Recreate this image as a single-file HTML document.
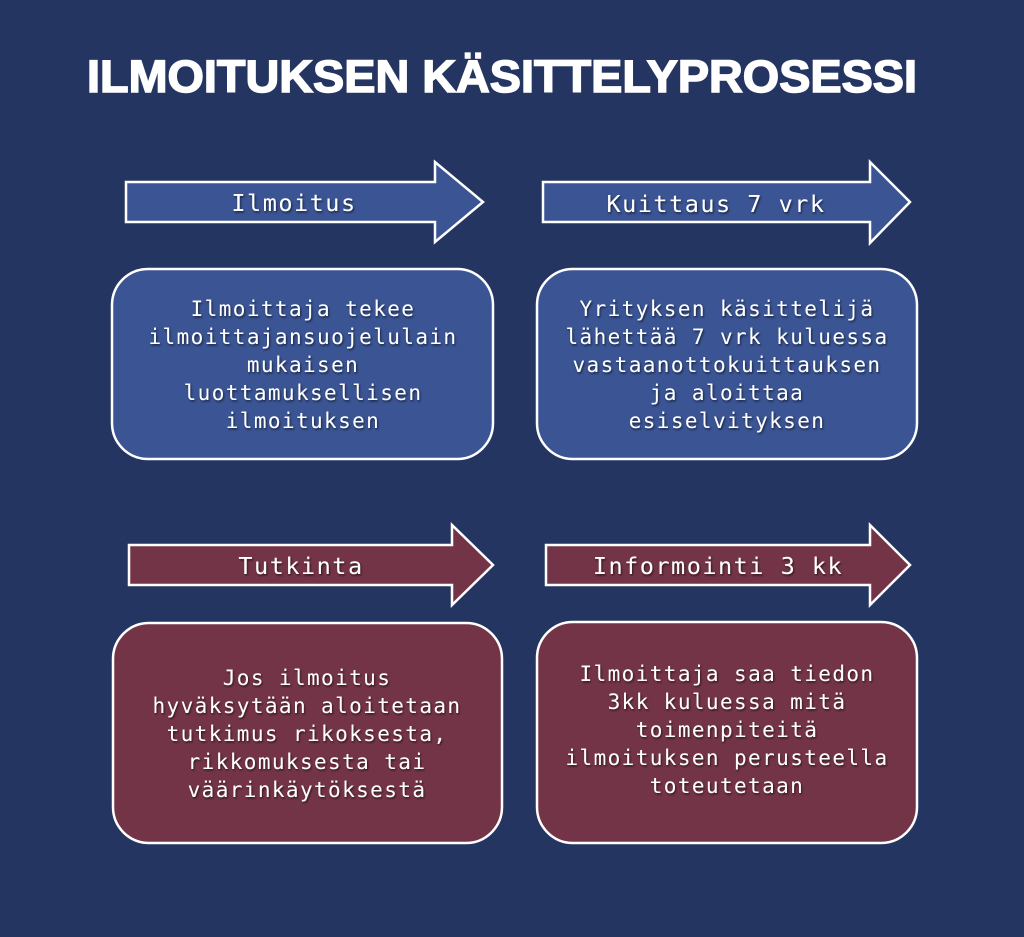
<!DOCTYPE html>
<html><head><meta charset="utf-8"><style>
body{margin:0;background:#253561;}
svg{display:block}
.t{font-family:"DejaVu Sans Mono","Liberation Mono",monospace;font-size:21px;letter-spacing:1.4px;fill:#fff;text-anchor:middle}
.a{font-size:23.5px;letter-spacing:1.5px}
</style></head><body>
<svg width="1024" height="937" viewBox="0 0 1024 937" xmlns="http://www.w3.org/2000/svg">
<defs><filter id="s" x="-5%" y="-20%" width="110%" height="140%"><feDropShadow dx="1" dy="1.5" stdDeviation="1" flood-color="#000" flood-opacity="0.6"/></filter></defs>
<rect width="1024" height="937" fill="#253561"/>
<text x="87" y="92" textLength="830" lengthAdjust="spacingAndGlyphs" font-family="Liberation Sans, sans-serif" font-weight="bold" font-size="45" fill="#fff" stroke="#fff" stroke-width="1.5">ILMOITUKSEN KÄSITTELYPROSESSI</text>
<g stroke="#fff" stroke-width="2.5">
<polygon points="126,182 435,182 435,162 483,202 435,242 435,222 126,222" fill="#3a5494"/>
<polygon points="543,182 870,182 870,162 910,202 870,243 870,222 543,222" fill="#3a5494"/>
<polygon points="129,545 452,545 452,525 493,565 452,605 452,585 129,585" fill="#743447"/>
<polygon points="546,545 870,545 870,525 910,565 870,605 870,585 546,585" fill="#743447"/>
<rect x="112" y="269" width="381" height="190" rx="36" fill="#3a5494"/>
<rect x="537" y="269" width="380" height="190" rx="36" fill="#3a5494"/>
<rect x="113" y="623" width="389" height="220" rx="36" fill="#743447"/>
<rect x="537" y="622" width="380" height="221" rx="36" fill="#743447"/>
</g>
<g class="t" filter="url(#s)">
<text class="a" x="294" y="211">Ilmoitus</text>
<text class="a" x="716" y="212">Kuittaus 7 vrk</text>
<text class="a" x="301" y="574">Tutkinta</text>
<text class="a" x="718" y="574">Informointi 3 kk</text>
<text x="303" y="316">Ilmoittaja tekee</text>
<text x="303" y="344">ilmoittajansuojelulain</text>
<text x="303" y="372">mukaisen</text>
<text x="303" y="400">luottamuksellisen</text>
<text x="303" y="428">ilmoituksen</text>
<text x="727" y="316">Yrityksen käsittelijä</text>
<text x="727" y="344">lähettää 7 vrk kuluessa</text>
<text x="727" y="372">vastaanottokuittauksen</text>
<text x="727" y="400">ja aloittaa</text>
<text x="727" y="428">esiselvityksen</text>
<text x="307" y="685">Jos ilmoitus</text>
<text x="307" y="713">hyväksytään aloitetaan</text>
<text x="307" y="741">tutkimus rikoksesta,</text>
<text x="307" y="769">rikkomuksesta tai</text>
<text x="307" y="797">väärinkäytöksestä</text>
<text x="727" y="681">Ilmoittaja saa tiedon</text>
<text x="727" y="709">3kk kuluessa mitä</text>
<text x="727" y="737">toimenpiteitä</text>
<text x="727" y="765">ilmoituksen perusteella</text>
<text x="727" y="793">toteutetaan</text>
</g>
</svg>
</body></html>
